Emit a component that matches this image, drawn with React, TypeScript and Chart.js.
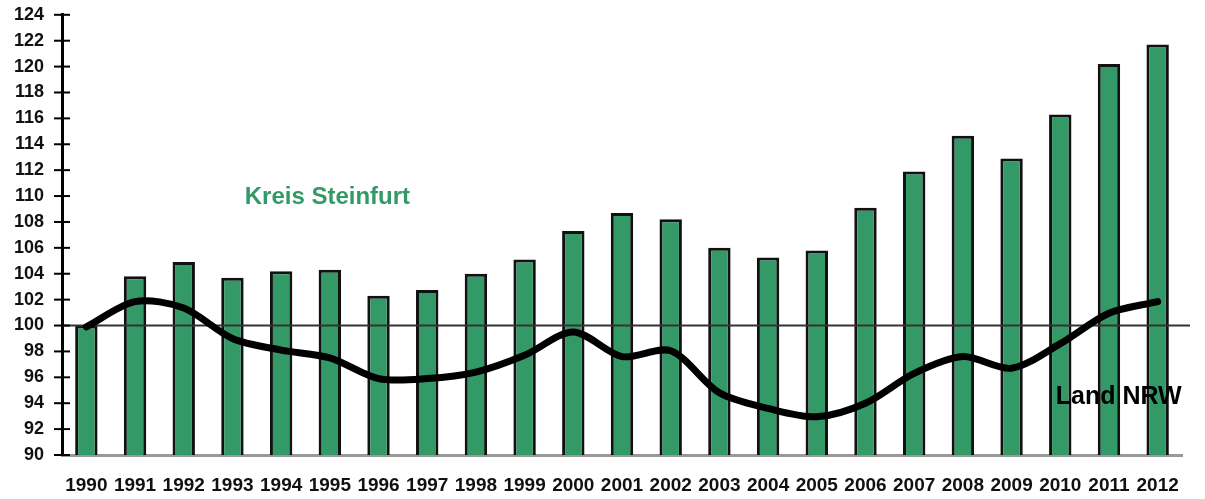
import React, { useEffect, useRef } from 'react';
import { Chart, registerables } from 'chart.js';

Chart.register(...registerables);

// Jahre und Indexwerte (1990 = 100)
const years = ['1990', '1991', '1992', '1993', '1994', '1995', '1996', '1997', '1998', '1999', '2000', '2001',
  '2002', '2003', '2004', '2005', '2006', '2007', '2008', '2009', '2010', '2011', '2012'];
const kreisSteinfurt = [100, 103.8, 104.9, 103.7, 104.2, 104.3, 102.3, 102.75, 104.0, 105.1, 107.3, 108.7,
  108.2, 106.0, 105.25, 105.8, 109.1, 111.9, 114.65, 112.9, 116.3, 120.2, 121.7];
const landNRW = [99.9, 101.85, 101.35, 99.0, 98.1, 97.5, 95.9, 95.9, 96.4, 97.7, 99.5, 97.6,
  98.05, 94.8, 93.6, 92.95, 94.0, 96.3, 97.6, 96.7, 98.6, 100.95, 101.85];
const yTicks = [90, 92, 94, 96, 98, 100, 102, 104, 106, 108, 110, 112, 114, 116, 118, 120, 122, 124];
const baseline = 100;

const GREEN = '#339966';
const FONT = "'Liberation Sans', Arial, sans-serif";

// Beschriftungen im Diagramm (Kategorie-Index, Wert)
const kreisLabel = { text: 'Kreis Steinfurt', x: 4.95, y: 109.9 };
const nrwLabel = { text: 'Land NRW', x: 21.2, y: 94.5 };

const overlayPlugin = {
  id: 'overlay',
  afterDatasetDraw(chart: any, args: any) {
    if (args.meta.type !== 'bar') return;
    const { ctx, chartArea } = chart;
    const y = chart.scales.y.getPixelForValue(baseline);
    ctx.save();
    ctx.strokeStyle = '#333';
    ctx.lineWidth = 2;
    ctx.beginPath();
    ctx.moveTo(chartArea.left, y);
    ctx.lineTo(chartArea.right + 8, y);
    ctx.stroke();
    ctx.restore();
  },
  afterDraw(chart: any) {
    const { ctx, scales } = chart;
    const yScale = scales.y;
    const xScale = scales.x;
    const axisX = chart.chartArea.left;
    ctx.save();
    // Striche quer über die y-Achse
    ctx.strokeStyle = '#000';
    ctx.lineWidth = 2;
    yTicks.forEach(v => {
      const py = yScale.getPixelForValue(v);
      ctx.beginPath();
      ctx.moveTo(axisX - 8, py);
      ctx.lineTo(axisX + 8, py);
      ctx.stroke();
    });
    ctx.textBaseline = 'middle';
    ctx.textAlign = 'center';
    ctx.font = `bold 24px ${FONT}`;
    ctx.fillStyle = GREEN;
    ctx.fillText(kreisLabel.text, xScale.getPixelForValue(kreisLabel.x), yScale.getPixelForValue(kreisLabel.y));
    ctx.font = `bold 25px ${FONT}`;
    ctx.fillStyle = '#000';
    ctx.fillText(nrwLabel.text, xScale.getPixelForValue(nrwLabel.x), yScale.getPixelForValue(nrwLabel.y));
    ctx.restore();
  },
};

const App: React.FC = () => {
  const canvasRef = useRef<HTMLCanvasElement>(null);

  useEffect(() => {
    document.body.style.margin = '0';
    if (!canvasRef.current) return;
    const chart = new Chart(canvasRef.current, {
      type: 'bar',
      data: {
        labels: years,
        datasets: [
          {
            type: 'line',
            label: 'Land NRW',
            data: landNRW,
            borderColor: '#000',
            borderWidth: 7,
            borderCapStyle: 'round',
            borderJoinStyle: 'round',
            tension: 0.3,
            pointRadius: 0,
            order: 0,
          } as any,
          {
            type: 'bar',
            label: 'Kreis Steinfurt',
            data: kreisSteinfurt,
            backgroundColor: GREEN,
            borderColor: '#111',
            borderWidth: 3,
            barPercentage: 0.46,
            categoryPercentage: 1,
            order: 1,
          },
        ],
      },
      options: {
        responsive: false,
        animation: false,
        layout: { padding: { top: 0, right: 23, left: 0, bottom: 0 } },
        plugins: {
          legend: { display: false },
          tooltip: { enabled: false },
        },
        scales: {
          x: {
            grid: { display: false, drawTicks: false },
            border: { display: true, color: '#999', width: 3 },
            ticks: {
              color: '#111',
              font: { family: FONT, size: 19, weight: 'bold' },
              padding: 19,
              maxRotation: 0,
              autoSkip: false,
            },
            afterFit: (s: any) => { s.height = 44; },
          },
          y: {
            min: 90,
            max: 124,
            afterBuildTicks: (s: any) => { s.ticks = yTicks.map(v => ({ value: v })); },
            grid: { display: false, drawTicks: true, tickLength: 14 },
            border: { display: true, color: '#000', width: 3 },
            ticks: {
              color: '#111',
              font: { family: FONT, size: 18, weight: 'bold' },
              padding: 4,
            },
            afterFit: (s: any) => { s.width = 62; },
          },
        },
      },
      plugins: [overlayPlugin],
    });
    return () => chart.destroy();
  }, []);

  return (
    <div style={{ width: 1205, height: 499, background: '#fff' }}>
      <canvas ref={canvasRef} width={1205} height={499} />
    </div>
  );
};

export default App;
